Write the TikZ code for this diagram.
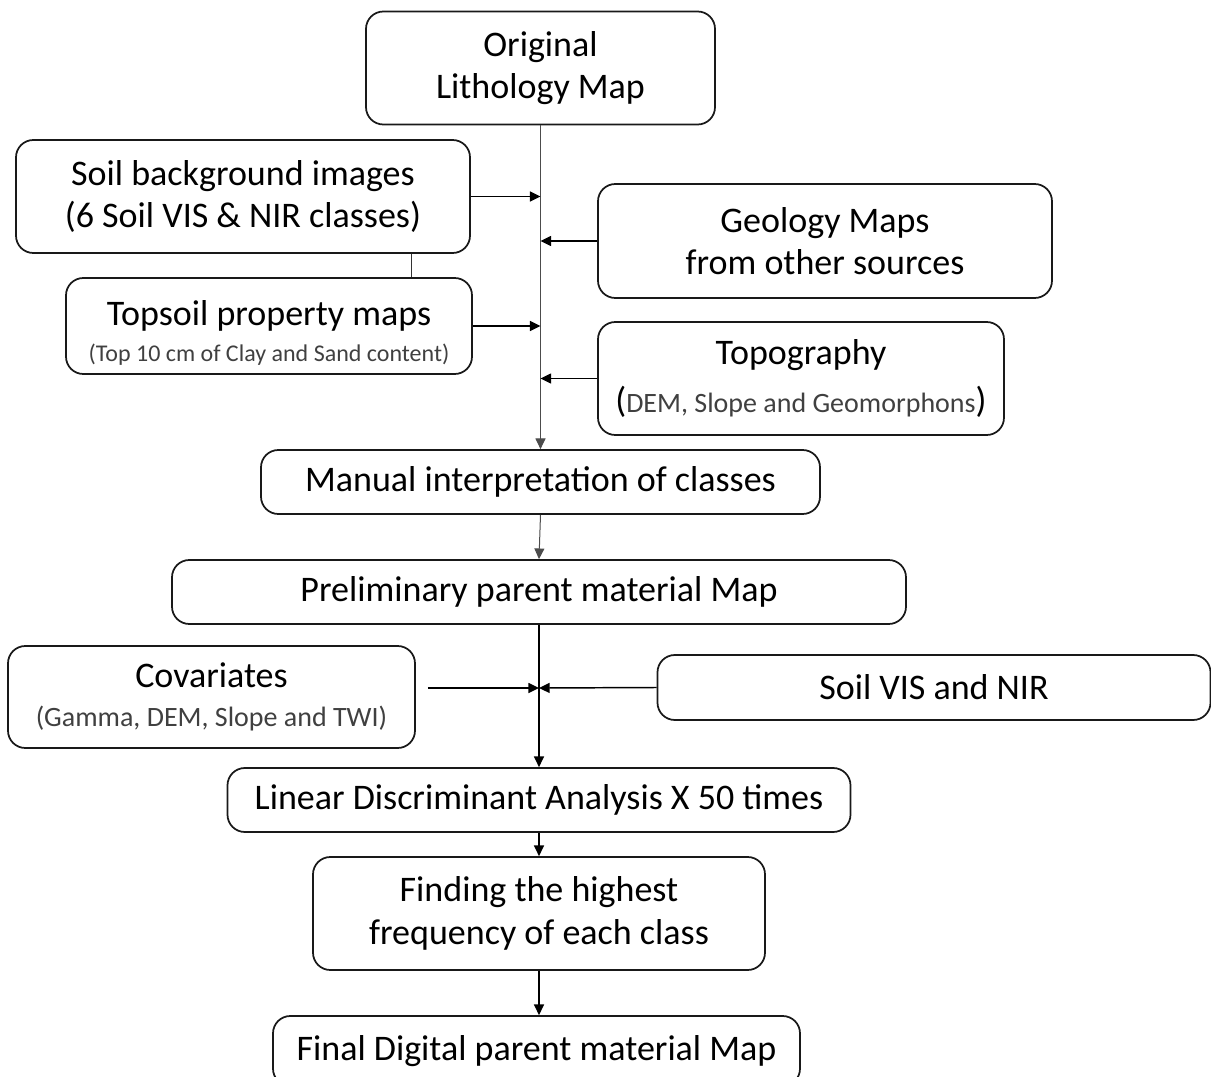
\documentclass[tikz,border=0pt]{standalone}
\usepackage{fontspec}
\setmainfont{Carlito}
\usetikzlibrary{arrows.meta}
\definecolor{subgray}{RGB}{64,64,64}
\newcommand{\bigtxt}{\fontsize{27}{32}\selectfont}
\newcommand{\subtxt}{\fontsize{21}{26}\selectfont\color{subgray}}
\newcommand{\tinytxt}{\fontsize{18}{22}\selectfont\color{subgray}}

\begin{document}
\begin{tikzpicture}[x=0.75pt,y=0.75pt,yscale=-1,xscale=1,
  box/.style={draw=black!90, line width=1.3pt, rounded corners=13pt, align=center, inner sep=0pt, font=\bigtxt},
  dims/.style 2 args={minimum width=#1*0.75pt, minimum height=#2*0.75pt},
  flow/.style={line width=1.1pt, -{Triangle[length=8pt,width=7.5pt]}},
  trunk/.style={line width=0.75pt, draw=black!70, -{Triangle[length=8pt,width=7.5pt]}},
  link/.style={line width=0.75pt, draw=black!80}]
\useasboundingbox (0,0) rectangle (1211,1077);

% Boxes
\node[box, dims={349}{113}] (orig) at (540.5,68) {Original\\Lithology Map};
\node[box, dims={454}{113}] (soilbg) at (243,196.5) {Soil background images\\(6 Soil VIS \& NIR classes)};
\node[box, dims={454}{114}] (geol) at (825,241) {Geology Maps\\from other sources};
\node[box, dims={406}{96}] (topsoil) at (269,326) {\rule{0pt}{29pt}Topsoil property maps\\[-5pt]{\tinytxt (Top 10 cm of Clay and Sand content)}};
\node[box, dims={406}{113}] (topo) at (801,378.5) {Topography\\[4pt]({\subtxt DEM, Slope and Geomorphons})};
\node[box, dims={559}{64}] (manual) at (540.5,482) {Manual interpretation of classes};
\node[box, dims={734}{64}] (prelim) at (539,592) {Preliminary parent material Map};
\node[box, dims={407}{102}] (covar) at (211.5,697) {Covariates\\[-3pt]{\subtxt (Gamma, DEM, Slope and TWI)}};
\node[box, dims={553}{65}] (soilvis) at (934,687.5) {Soil VIS and NIR};
\node[box, dims={623}{64}] (lda) at (539,800) {Linear Discriminant Analysis X 50 times};
\node[box, dims={452}{113}] (finding) at (539,913.5) {Finding the highest\\frequency of each class};
\node[box, dims={527}{70}] (final) at (536.5,1051) {Final Digital parent material Map};

% Junctions on the trunk
\coordinate (jsoil) at (soilbg.east -| orig.south);
\coordinate (jgeol) at (geol.west -| orig.south);
\coordinate (jtop) at (topsoil.east -| orig.south);
\coordinate (jtopo) at (topo.west -| orig.south);
\coordinate (meet) at (539,688);
\coordinate (tie) at (411,0);

% Connectors
\draw[trunk] (orig.south) -- (manual.north);
\draw[flow] (soilbg.east) -- (jsoil);
\draw[flow] (geol.west) -- (jgeol);
\draw[flow] (topsoil.east) -- (jtop);
\draw[flow] (topo.west) -- (jtopo);
\draw[link] (tie |- soilbg.south) -- (tie |- topsoil.north);
\draw[trunk] (manual.south) -- (prelim.north);
\draw[flow] (prelim.south) -- (lda.north);
\draw[flow] (covar.east |- meet) ++(12,0) -- (meet);
\draw[flow] (soilvis.west) -- (meet);
\draw[flow] (lda.south) -- (finding.north);
\draw[flow] (finding.south) -- (finding.south |- final.north);

\end{tikzpicture}
\end{document}
